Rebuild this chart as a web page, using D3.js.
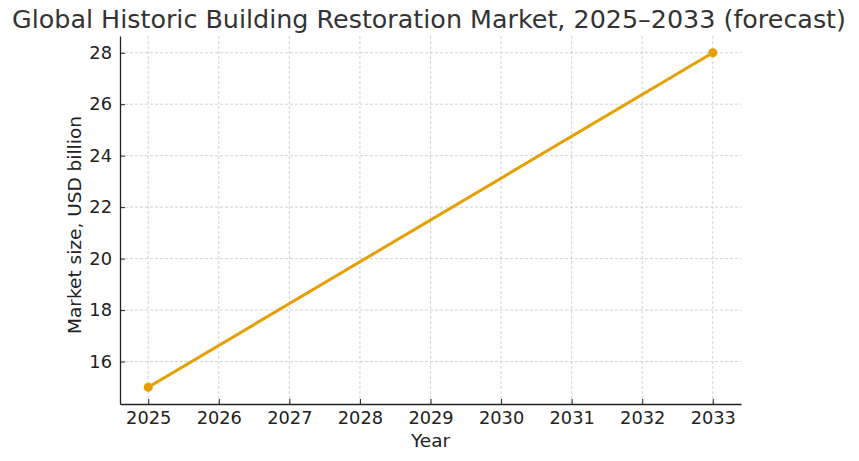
<!DOCTYPE html>
<html>
<head>
<meta charset="utf-8">
<script src="https://cdn.jsdelivr.net/npm/d3@7"></script>
<style>
  body { margin: 0; background: #fff; }
  text { font-family: "DejaVu Sans", sans-serif; }
</style>
</head>
<body>
<svg id="chart" width="859" height="461"></svg>
<script>
// data
const years = [2025, 2033];
const marketSize = [15, 28];
const xTicks = [2025, 2026, 2027, 2028, 2029, 2030, 2031, 2032, 2033];
const yTicks = [16, 18, 20, 22, 24, 26, 28];

const width = 859, height = 461;
const margin = { top: 36, right: 118, bottom: 57, left: 120 };
const innerWidth = width - margin.left - margin.right;
const innerHeight = height - margin.top - margin.bottom;

const svg = d3.select('#chart');
const g = svg.append('g').attr('transform', `translate(${margin.left},${margin.top})`);

// matplotlib-ish 5% padding
const x = d3.scaleLinear().domain([2024.6, 2033.4]).range([0, innerWidth]);
const y = d3.scaleLinear().domain([14.35, 28.65]).range([innerHeight, 0]);

// grid
g.append('g').selectAll('line').data(xTicks).join('line')
  .attr('x1', d => x(d)).attr('x2', d => x(d))
  .attr('y1', 0).attr('y2', innerHeight)
  .attr('stroke', '#c8c8c8').attr('stroke-width', 0.8)
  .attr('stroke-dasharray', '3,2');
g.append('g').selectAll('line').data(yTicks).join('line')
  .attr('x1', 0).attr('x2', innerWidth)
  .attr('y1', d => y(d)).attr('y2', d => y(d))
  .attr('stroke', '#c8c8c8').attr('stroke-width', 0.8)
  .attr('stroke-dasharray', '3,2');

// axes, ticks point inward
const xAxis = g.append('g')
  .attr('transform', `translate(0,${innerHeight})`)
  .call(d3.axisBottom(x).tickValues(xTicks).tickFormat(d3.format('d')).tickSize(-5).tickPadding(7).tickSizeOuter(0));
const yAxis = g.append('g')
  .call(d3.axisLeft(y).tickValues(yTicks).tickSize(-5).tickPadding(8).tickSizeOuter(0));

[xAxis, yAxis].forEach(a => {
  a.select('.domain').attr('stroke', '#222').attr('stroke-width', 1.3);
  a.selectAll('.tick line').attr('stroke', '#222').attr('stroke-width', 1);
  a.selectAll('.tick text').attr('fill', '#222')
    .style('font-family', '"DejaVu Sans", sans-serif').style('font-size', '17.8px');
});

// line
const pts = years.map((yr, i) => ({ yr, v: marketSize[i] }));
g.append('path').datum(pts)
  .attr('fill', 'none')
  .attr('stroke', '#E69F00')
  .attr('stroke-width', 3)
  .attr('d', d3.line().x(d => x(d.yr)).y(d => y(d.v)));
g.selectAll('circle').data(pts).join('circle')
  .attr('cx', d => x(d.yr)).attr('cy', d => y(d.v))
  .attr('r', 4.5).attr('fill', '#E69F00');

// labels
svg.append('text')
  .attr('x', 429).attr('y', 28)
  .attr('text-anchor', 'middle')
  .attr('fill', '#333')
  .style('font-size', '25.4px')
  .text('Global Historic Building Restoration Market, 2025–2033 (forecast)');

svg.append('text')
  .attr('x', margin.left + innerWidth / 2).attr('y', 447)
  .attr('text-anchor', 'middle')
  .attr('fill', '#222')
  .style('font-size', '18.5px')
  .text('Year');

svg.append('text')
  .attr('transform', 'translate(81,225) rotate(-90)')
  .attr('text-anchor', 'middle')
  .attr('fill', '#222')
  .style('font-size', '18.5px')
  .text('Market size, USD billion');
</script>
</body>
</html>
